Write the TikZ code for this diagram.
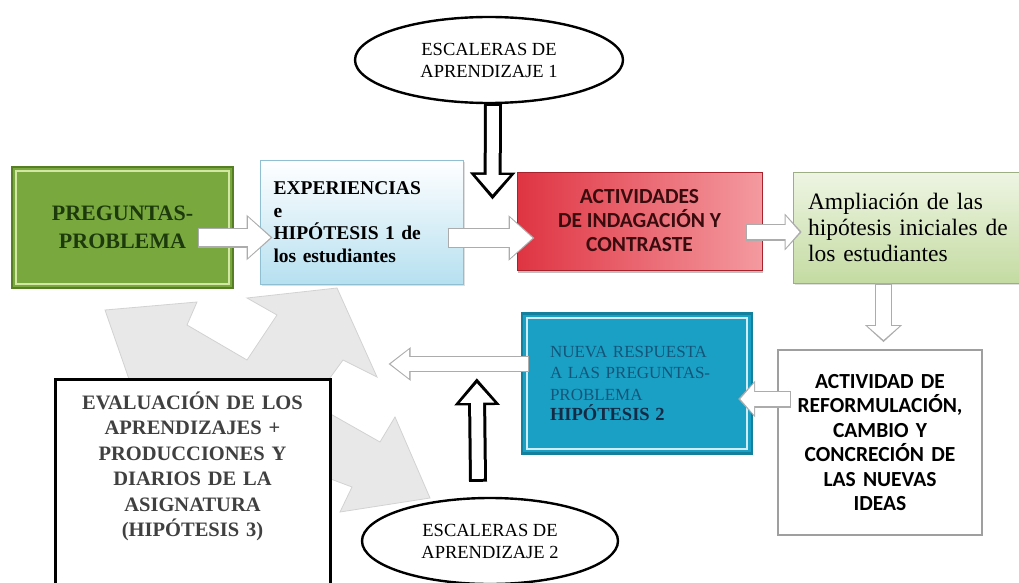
\documentclass[tikz,border=0pt]{standalone}
\usepackage{fontspec}
\setmainfont{Liberation Serif}
\setsansfont{Carlito}
\usetikzlibrary{arrows.meta, shapes.geometric, shadows, calc}

\definecolor{pqgreen}{HTML}{79A83E}
\definecolor{pqdark}{HTML}{557F22}
\definecolor{pqlight}{HTML}{D4E7A2}
\definecolor{pqtext}{HTML}{1C3A0C}
\definecolor{expblue}{HTML}{B6E0F0}
\definecolor{expline}{HTML}{8FBFD0}
\definecolor{actred}{HTML}{DF3442}
\definecolor{actpink}{HTML}{F49AA0}
\definecolor{actline}{HTML}{A8222E}
\definecolor{acttext}{HTML}{3A0C0E}
\definecolor{amptop}{HTML}{EEF5E3}
\definecolor{ampbot}{HTML}{C4DBA2}
\definecolor{nuevablue}{HTML}{1BA0C5}
\definecolor{nuevaline}{HTML}{13809D}
\definecolor{nuevatext}{HTML}{13567A}
\definecolor{hiptext}{HTML}{152B45}
\definecolor{cyclegray}{HTML}{E8E8E8}

\tikzset{
  box/.style={rectangle, inner sep=0pt},
  bubble/.style={ellipse, draw=black, line width=2.4pt, fill=white, inner sep=0pt,
    align=center, font=\fontsize{18.5}{22}\selectfont},
  hollow/.style={line width=20pt, draw=gray!65, -{Triangle[length=26pt,width=44pt]},
    postaction={draw=white, line width=17.6pt, shorten <=1.2pt, shorten >=2pt,
      -{Triangle[length=22.5pt,width=39pt]}}},
  hollowmid/.style={line width=17pt, draw=gray!65, -{Triangle[length=17pt,width=36pt]},
    postaction={draw=white, line width=14.6pt, shorten <=1.2pt, shorten >=2.2pt,
      -{Triangle[length=13.8pt,width=31pt]}}},
  hollowsm/.style={line width=16pt, draw=gray!65, -{Triangle[length=22pt,width=32pt]},
    postaction={draw=white, line width=13.6pt, shorten <=1.2pt, shorten >=2pt,
      -{Triangle[length=18.5pt,width=27.5pt]}}},
  thickarr/.style={line width=18pt, draw=black, -{Triangle[length=27pt,width=44pt]},
    postaction={draw=white, line width=12pt, shorten <=3pt, shorten >=5pt,
      -{Triangle[length=19.5pt,width=33pt]}}},
  cyclearr/.style={fill=cyclegray, draw=gray!35, line width=0.8pt}
}

\begin{document}
\begin{tikzpicture}[x=1pt, y=-1pt]
\useasboundingbox (0,0) rectangle (1019,583);
\clip (0,0) rectangle (1019,583);

% grey cycle arrows in the background
\path[cyclearr] (105,310) -- (197,302) -- (187,325) -- (247,360) -- (277,315) -- (247,298)
  -- (337,288) -- (377,377) -- (343,360) -- (327,382) -- (130,382) -- cycle;
\path[cyclearr] (320,408) -- (380,442) -- (395,417) -- (430,498) -- (340,512)
  -- (352,487) -- (320,475) -- cycle;

% boxes
\node[box, fill=pqgreen, draw=pqdark, line width=2pt, minimum width=221pt, minimum height=121pt,
  align=center, text=pqtext, font=\bfseries\fontsize{22}{28}\selectfont]
  (preg) at (122.5,227.5) {PREGUNTAS-\\PROBLEMA};
\draw[pqlight, line width=1.6pt] ([shift={(5,-5)}]preg.south west) rectangle ([shift={(-5,5)}]preg.north east);

\node[box, top color=white, bottom color=expblue, draw=expline, line width=1pt,
  drop shadow={opacity=0.25, shadow xshift=2pt, shadow yshift=-2pt},
  minimum width=203pt, minimum height=124pt, text width=176pt, align=left,
  font=\bfseries\fontsize{19.5}{22.5}\selectfont]
  (exper) at (361.5,222) {EXPERIENCIAS\\e\\HIPÓTESIS 1 de\\los estudiantes};

\node[box, left color=actred, right color=actpink, draw=actline, line width=1pt,
  drop shadow={opacity=0.5, shadow xshift=1pt, shadow yshift=-3pt},
  minimum width=245pt, minimum height=98pt, align=center, text=acttext,
  font=\sffamily\bfseries\fontsize{21.5}{24}\selectfont]
  (activ) at (639.5,221) {ACTIVIDADES\\DE INDAGACIÓN Y\\CONTRASTE};

\node[box, top color=amptop, bottom color=ampbot, draw=ampbot!80!black, line width=0.6pt,
  drop shadow={opacity=0.25, shadow xshift=2pt, shadow yshift=-2pt},
  minimum width=232pt, minimum height=111pt, text width=202pt, align=left,
  font=\fontsize{23.5}{26}\selectfont]
  (ampl) at (909,227.5) {Ampliación de las\\hipótesis iniciales de\\los estudiantes};

\node[box, fill=white, draw=gray!75, line width=1.8pt,
  minimum width=204pt, minimum height=185pt, text width=200pt, align=center,
  font=\sffamily\bfseries\fontsize{21.5}{24.5}\selectfont]
  (reform) at (880,442.5) {ACTIVIDAD DE\\REFORMULACIÓN,\\CAMBIO Y\\CONCRECIÓN DE\\LAS NUEVAS\\IDEAS};

\node[box, fill=nuevablue, draw=nuevaline, line width=2.4pt,
  minimum width=230pt, minimum height=140pt, text width=174pt, align=left,
  font=\fontsize{17}{21.5}\selectfont, text=nuevatext]
  (nueva) at (637,383.5) {NUEVA RESPUESTA\\A LAS PREGUNTAS-\\PROBLEMA\\[-1pt]
  {\bfseries\fontsize{18.5}{21.5}\selectfont\color{hiptext}HIPÓTESIS 2}};
\draw[white!80!nuevablue, line width=1.8pt] ([shift={(6,-6)}]nueva.south west) rectangle ([shift={(-6,6)}]nueva.north east);

\node[box, fill=white, draw=black, line width=3pt, anchor=north,
  minimum width=275pt, minimum height=220pt, text width=262pt, align=center,
  inner ysep=12pt, font=\bfseries\fontsize{20.5}{25.5}\selectfont, text=black!75]
  (evalu) at (192.5,378) {EVALUACIÓN DE LOS\\APRENDIZAJES +\\PRODUCCIONES Y\\DIARIOS DE LA\\ASIGNATURA\\(HIPÓTESIS 3)\\[52pt]\mbox{}};

% ellipses
\node[bubble, minimum width=268pt, minimum height=86pt] (esc1) at (489,60) {ESCALERAS DE\\APRENDIZAJE 1};
\node[bubble, minimum width=256pt, minimum height=86pt] (esc2) at (490,541) {ESCALERAS DE\\APRENDIZAJE 2};

% connectors
\draw[hollow] ([shift={(-36,10)}]preg.east) -- ([shift={(13,15.5)}]exper.west);
\draw[hollow] ([shift={(-16,16)}]exper.east) -- ([shift={(18,17)}]activ.west);
\draw[hollowmid] ([shift={(-17,11)}]activ.east) -- ([shift={(9,4.5)}]ampl.west);
\draw[hollowmid] ([shift={(-25.5,0)}]ampl.south) -- ([shift={(3.5,-7)}]reform.north);
\draw[hollowmid] ([shift={(14,-43.5)}]reform.west) -- ([shift={(-15,15.5)}]nueva.east);
\draw[hollowsm] ([shift={(8,-19.5)}]nueva.west) -- ([shift={(57,-14)}]evalu.north east);
\draw[thickarr] ([shift={(4,-1)}]esc1.south) -- ([shift={(-24,28)}]activ.north west);
\draw[thickarr] ([shift={(-12,-15)}]esc2.north) -- ([shift={(-44,-76.5)}]nueva.south west);
\end{tikzpicture}
\end{document}
